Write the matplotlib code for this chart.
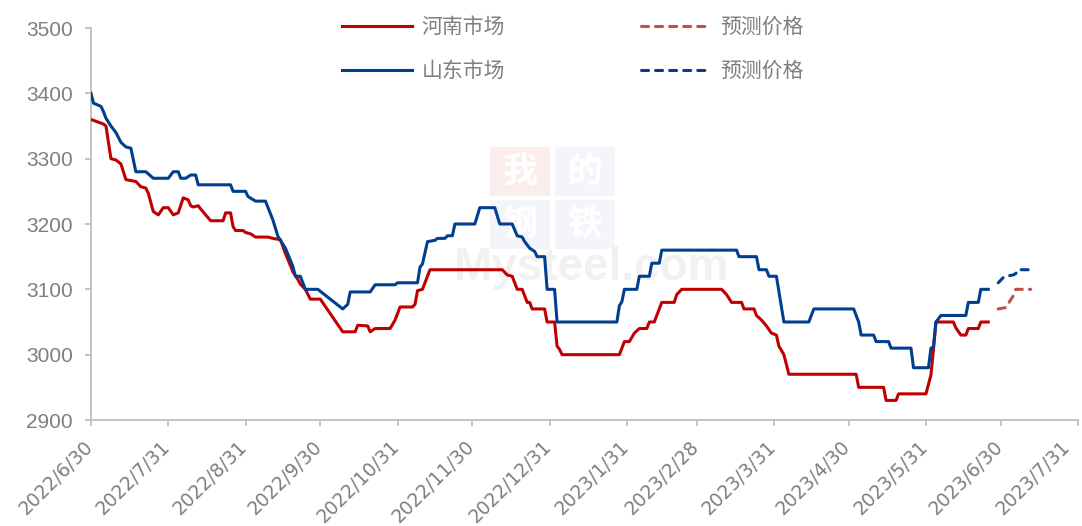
import matplotlib
matplotlib.use('Agg')
import matplotlib.pyplot as plt
import matplotlib.transforms as mtrans
from matplotlib.patches import Rectangle
import pandas as pd

plt.rcParams['font.family'] = ['Liberation Sans', 'Noto Sans CJK SC', 'DejaVu Sans']

# ---------------- data ----------------
henan_dates = ['2022-06-30','2022-07-05','2022-07-06','2022-07-08','2022-07-10','2022-07-12','2022-07-14','2022-07-18','2022-07-20','2022-07-22',
               '2022-07-23','2022-07-25','2022-07-27','2022-07-29','2022-07-31','2022-08-02','2022-08-04','2022-08-06','2022-08-08','2022-08-09',
               '2022-08-10','2022-08-12','2022-08-13','2022-08-17','2022-08-22','2022-08-23','2022-08-25','2022-08-26','2022-08-27','2022-08-30',
               '2022-08-31','2022-09-02','2022-09-04','2022-09-09','2022-09-11','2022-09-14','2022-09-16','2022-09-19','2022-09-21','2022-09-22',
               '2022-09-24','2022-09-26','2022-09-30','2022-10-09','2022-10-14','2022-10-15','2022-10-19','2022-10-20','2022-10-22','2022-10-28',
               '2022-10-30','2022-11-01','2022-11-06','2022-11-07','2022-11-08','2022-11-10','2022-11-13','2022-12-12','2022-12-14','2022-12-16',
               '2022-12-18','2022-12-20','2022-12-22','2022-12-23','2022-12-24','2022-12-29','2022-12-30','2023-01-02','2023-01-03','2023-01-04',
               '2023-01-05','2023-01-28','2023-01-30','2023-02-01','2023-02-03','2023-02-05','2023-02-08','2023-02-09','2023-02-11','2023-02-13',
               '2023-02-14','2023-02-19','2023-02-20','2023-02-22','2023-03-10','2023-03-12','2023-03-14','2023-03-18','2023-03-19','2023-03-23',
               '2023-03-24','2023-03-26','2023-03-28','2023-03-30','2023-04-01','2023-04-02','2023-04-04','2023-04-06','2023-05-03','2023-05-04',
               '2023-05-14','2023-05-15','2023-05-19','2023-05-20','2023-05-31','2023-06-02','2023-06-03','2023-06-04','2023-06-11','2023-06-12',
               '2023-06-14','2023-06-16','2023-06-17','2023-06-21','2023-06-22','2023-06-25']
henan_vals = [3360,3353,3350,3300,3298,3292,3268,3265,3257,3255,
              3247,3219,3214,3225,3225,3214,3217,3240,3237,3228,
              3226,3228,3223,3205,3205,3217,3217,3196,3190,3190,
              3187,3185,3180,3180,3178,3176,3155,3127,3115,3108,
              3100,3085,3085,3035,3035,3045,3044,3035,3040,3040,
              3053,3073,3073,3077,3098,3100,3130,3130,3122,3120,
              3100,3100,3080,3080,3070,3070,3050,3050,3013,3008,
              3000,3000,3020,3020,3033,3040,3040,3050,3050,3070,
              3080,3080,3092,3100,3100,3092,3080,3080,3070,3070,
              3060,3053,3044,3033,3030,3013,3000,2970,2970,2950,
              2950,2930,2930,2940,2940,2969,3008,3050,3050,3041,
              3030,3030,3040,3040,3050,3050]

shandong_dates = ['2022-06-30','2022-07-01','2022-07-04','2022-07-05','2022-07-06','2022-07-08','2022-07-10','2022-07-12','2022-07-14','2022-07-16',
                  '2022-07-18','2022-07-22','2022-07-25','2022-07-31','2022-08-02','2022-08-04','2022-08-05','2022-08-07','2022-08-09','2022-08-11',
                  '2022-08-12','2022-08-25','2022-08-26','2022-08-31','2022-09-01','2022-09-04','2022-09-08','2022-09-11','2022-09-13','2022-09-16',
                  '2022-09-19','2022-09-20','2022-09-22','2022-09-24','2022-09-29','2022-10-09','2022-10-11','2022-10-12','2022-10-20','2022-10-22',
                  '2022-10-30','2022-10-31','2022-11-08','2022-11-09','2022-11-10','2022-11-12','2022-11-15','2022-11-16','2022-11-19','2022-11-20',
                  '2022-11-22','2022-11-23','2022-12-01','2022-12-03','2022-12-09','2022-12-11','2022-12-16','2022-12-18','2022-12-20','2022-12-21',
                  '2022-12-23','2022-12-25','2022-12-26','2022-12-29','2022-12-30','2023-01-02','2023-01-03','2023-01-27','2023-01-28','2023-01-29',
                  '2023-01-30','2023-02-04','2023-02-05','2023-02-09','2023-02-10','2023-02-13','2023-02-14','2023-03-16','2023-03-17','2023-03-24',
                  '2023-03-25','2023-03-28','2023-03-29','2023-04-01','2023-04-04','2023-04-14','2023-04-16','2023-05-02','2023-05-04','2023-05-05',
                  '2023-05-10','2023-05-11','2023-05-16','2023-05-17','2023-05-25','2023-05-26','2023-06-01','2023-06-02','2023-06-03','2023-06-04',
                  '2023-06-06','2023-06-16','2023-06-17','2023-06-21','2023-06-22','2023-06-25']
shandong_vals = [3400,3385,3380,3372,3362,3350,3340,3325,3318,3316,
                 3280,3280,3270,3270,3280,3280,3270,3270,3275,3275,
                 3260,3260,3250,3250,3242,3235,3235,3206,3181,3163,
                 3135,3120,3120,3100,3100,3070,3077,3096,3096,3107,
                 3107,3110,3110,3134,3139,3173,3175,3178,3178,3182,
                 3182,3200,3200,3225,3225,3200,3200,3182,3180,3173,
                 3163,3158,3150,3150,3100,3100,3050,3050,3075,3081,
                 3100,3100,3120,3120,3140,3140,3160,3160,3150,3150,
                 3130,3130,3120,3120,3050,3050,3070,3070,3050,3030,
                 3030,3020,3020,3010,3010,2980,2980,3010,3012,3050,
                 3060,3060,3080,3080,3100,3100]

henan_fc_dates = ['2023-06-29','2023-07-02','2023-07-03','2023-07-05','2023-07-06','2023-07-12']
henan_fc_vals = [3070,3072,3078,3090,3100,3100]
shandong_fc_dates = ['2023-06-29','2023-07-01','2023-07-02','2023-07-05','2023-07-06','2023-07-07','2023-07-11']
shandong_fc_vals = [3110,3118,3120,3122,3124,3130,3130]

tick_dates = ['2022-06-30','2022-07-31','2022-08-31','2022-09-30','2022-10-31','2022-11-30','2022-12-31',
              '2023-01-31','2023-02-28','2023-03-31','2023-04-30','2023-05-31','2023-06-30','2023-07-31']
tick_labels = ['2022/6/30','2022/7/31','2022/8/31','2022/9/30','2022/10/31','2022/11/30','2022/12/31',
               '2023/1/31','2023/2/28','2023/3/31','2023/4/30','2023/5/31','2023/6/30','2023/7/31']
y_ticks = [2900, 3000, 3100, 3200, 3300, 3400, 3500]

labels = ['河南市场', '山东市场', '预测价格', '预测价格']

# ---------------- figure ----------------
W, H = 1082, 526
fig = plt.figure(figsize=(W / 100, H / 100), dpi=100)
ax = fig.add_axes([91 / W, 1 - 420 / H, (1078 - 91) / W, (420 - 28) / H])

RED = '#C00000'
BLUE = '#003F8F'
RED_FC = '#C0504D'
GRAY = '#BFBFBF'
TXT = '#7F7F7F'
LW = 2.2

l1, = ax.plot(pd.to_datetime(henan_dates), henan_vals, color=RED, lw=LW, zorder=3)
l2, = ax.plot(pd.to_datetime(shandong_dates), shandong_vals, color=BLUE, lw=LW, zorder=3)
l3, = ax.plot(pd.to_datetime(henan_fc_dates), henan_fc_vals, color=RED_FC, lw=LW,
              dashes=(2.3, 2.3), dash_capstyle='round', zorder=3)
l4, = ax.plot(pd.to_datetime(shandong_fc_dates), shandong_fc_vals, color=BLUE, lw=LW,
              dashes=(2.3, 2.3), dash_capstyle='round', zorder=3)

ax.set_xlim(pd.Timestamp(tick_dates[0]), pd.Timestamp(tick_dates[-1]))
ax.set_ylim(y_ticks[0], y_ticks[-1])
ax.set_yticks(y_ticks)
ax.set_xticks(pd.to_datetime(tick_dates))
ax.set_xticklabels(tick_labels, rotation=45, ha='right', va='center',
                   rotation_mode='anchor', fontsize=13.5, color=TXT,
                   family=['DejaVu Sans'])

for s in ['top', 'right']:
    ax.spines[s].set_visible(False)
for s in ['left', 'bottom']:
    ax.spines[s].set_color(GRAY)
    ax.spines[s].set_linewidth(1.3)
ax.tick_params(axis='x', direction='out', length=4, width=1.3, color=GRAY, pad=13)
ax.tick_params(axis='y', direction='out', length=4, width=1.3, color=GRAY, pad=9,
               labelsize=15, labelcolor=TXT)

fig.canvas.draw()
xlabs = ax.xaxis.get_majorticklabels()
for i, lab in enumerate(xlabs):
    dx = -11 if i == len(xlabs) - 1 else -1
    lab.set_transform(lab.get_transform() +
                      mtrans.ScaledTranslation(dx / 100, 0, fig.dpi_scale_trans))

# ---------------- watermark ----------------
def fx(px):
    return px / W

def fy(py):
    return 1 - py / H

boxes = [(490, 147, '我', '#FCEDED'), (555, 147, '的', '#F3F5FA'),
         (490, 200, '钢', '#F3F5FA'), (555, 200, '铁', '#F3F5FA')]
for bx, by, ch, col in boxes:
    ax.add_patch(Rectangle((fx(bx), fy(by + 49)), 60 / W, 49 / H, transform=fig.transFigure,
                           facecolor=col, edgecolor='none', zorder=0.5, clip_on=False))
    ax.text(fx(bx + 30), fy(by + 24), ch, transform=fig.transFigure, ha='center', va='center',
            fontsize=25, color='white', family=['Noto Sans CJK SC'], fontweight='bold',
            zorder=0.6, clip_on=False)
ax.text(fx(592), fy(268), 'Mysteel.com', transform=fig.transFigure, ha='center', va='center',
        fontsize=33, color='#F1F1F1', fontweight='bold', family=['Liberation Sans'],
        zorder=0.7, clip_on=False)

# ---------------- legend ----------------
leg = ax.legend([l1, l2, l3, l4], labels, ncol=2, loc='center',
                bbox_to_anchor=(fx(573), fy(49)), bbox_transform=fig.transFigure,
                frameon=False, prop={'family': ['Noto Sans CJK SC'], 'size': 15},
                labelcolor=TXT, handlelength=3.35, handletextpad=0.45,
                columnspacing=6.55, labelspacing=1.05, borderpad=0, borderaxespad=0)

fig.savefig('out.png', dpi=100)
